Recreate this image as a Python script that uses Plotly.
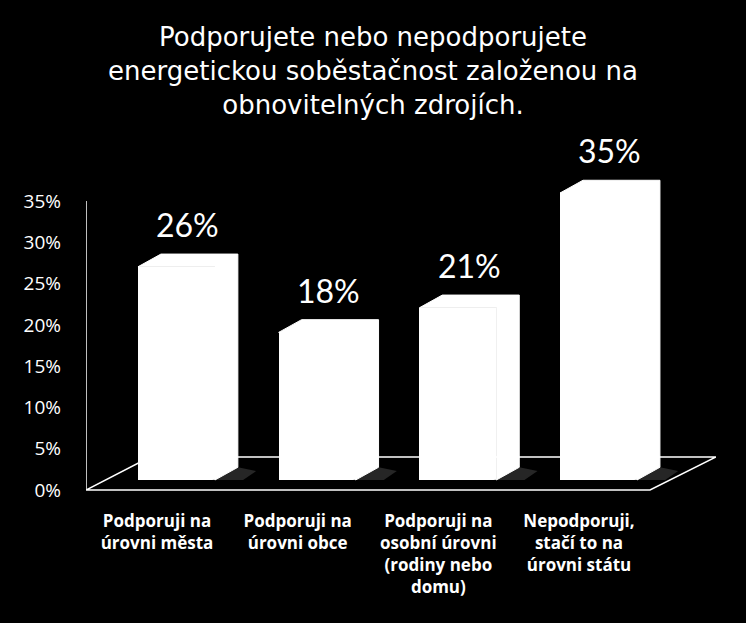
import plotly.graph_objects as go

# ---- data ----
categories = [
    "Podporuji na<br>úrovni města",
    "Podporuji na<br>úrovni obce",
    "Podporuji na<br>osobní úrovni<br>(rodiny nebo<br>domu)",
    "Nepodporuji,<br>stačí to na<br>úrovni státu",
]
values = [26, 18, 21, 35]
tick_values = [0, 5, 10, 15, 20, 25, 30, 35]
tick_labels = ["0%", "5%", "10%", "15%", "20%", "25%", "30%", "35%"]
title_text = ("Podporujete nebo nepodporujete<br>"
              "energetickou soběstačnost založenou na<br>"
              "obnovitelných zdrojích.")

# ---- style / geometry ----
W, H = 746, 623
BAR_W = 0.547      # front face width (category units)
DX = 0.163         # 3D depth offset in x (category units)
DY = 1.55          # 3D depth offset in y (percent units)
LABEL_FONT = "Open Sans"

idx = list(range(len(values)))

fig = go.Figure()

# soft shadow on the floor to the right of each bar (drawn first)
sx, sy = [], []
for i, v in zip(idx, values):
    r = i + BAR_W / 2
    sx += [r - 0.02, r + DX, r + DX + 0.13, r + 0.2, None]
    sy += [0, DY, DY * 0.7, 0, None]
fig.add_trace(go.Scatter(
    x=sx, y=sy, xaxis="x2", yaxis="y2", mode="none", fill="toself",
    fillcolor="rgba(110,110,110,0.35)", hoverinfo="skip", showlegend=False,
))

# front faces of the bars
fig.add_trace(go.Bar(
    x=idx, y=values, width=BAR_W, xaxis="x2", yaxis="y2",
    marker=dict(color="white", line=dict(width=0)),
    hoverinfo="skip", showlegend=False,
))

# top + side faces (3D look), derived from the values
px, py = [], []
for i, v in zip(idx, values):
    l, r = i - BAR_W / 2, i + BAR_W / 2
    px += [l, l + DX, r + DX, r + DX, r, r, l, None]
    py += [v, v + DY, v + DY, DY, 0, v, v, None]
fig.add_trace(go.Scatter(
    x=px, y=py, xaxis="x2", yaxis="y2", mode="lines", fill="toself",
    fillcolor="white", line=dict(color="white", width=1),
    hoverinfo="skip", showlegend=False,
))

# data labels
for i, v in zip(idx, values):
    fig.add_annotation(
        x=i + DX / 2, y=v + DY, xref="x2", yref="y2",
        text=f"{v}%", showarrow=False, yanchor="bottom", yshift=8,
        font=dict(family="Lato", size=32, color="white"),
    )

# floor and front-left edge
fig.add_shape(type="path", xref="x", yref="y", layer="below",
              path="M -0.505,0 L 3.505,0 L 3.974,4.0 L -0.05,4.0 Z",
              line=dict(color="white", width=1.5))
fig.add_shape(type="line", xref="x", yref="y", layer="below",
              x0=-0.505, x1=-0.505, y0=0, y1=35,
              line=dict(color="white", width=1.5))

fig.update_layout(
    width=W, height=H,
    paper_bgcolor="black", plot_bgcolor="black",
    margin=dict(l=86, r=30, t=140, b=123),
    title=dict(text=title_text, x=0.5, xanchor="center",
               y=1 - 46 / H, yanchor="middle",
               font=dict(family="DejaVu Sans", size=26, color="white")),
    xaxis=dict(range=[-0.505, 3.974], tickvals=idx, ticktext=categories,
               showgrid=False, zeroline=False, showline=False, ticks="",
               tickfont=dict(family=LABEL_FONT, size=17, color="white", weight="bold"),
               ticklabelstandoff=9, fixedrange=True),
    xaxis2=dict(range=[-0.643, 3.835], overlaying="x", visible=False),
    yaxis=dict(range=[-1.211, 42.39], tickvals=tick_values, ticktext=tick_labels,
               showgrid=False, zeroline=False, showline=False, ticks="",
               tickfont=dict(family=LABEL_FONT, size=19, color="white"),
               ticklabelstandoff=24),
    yaxis2=dict(range=[-2.44, 41.46], overlaying="y", visible=False),
    bargap=0,
)

fig.write_html(
    "out.html",
    config={"displayModeBar": False},
    post_script="document.body.style.margin='0';document.body.style.background='black';",
)
